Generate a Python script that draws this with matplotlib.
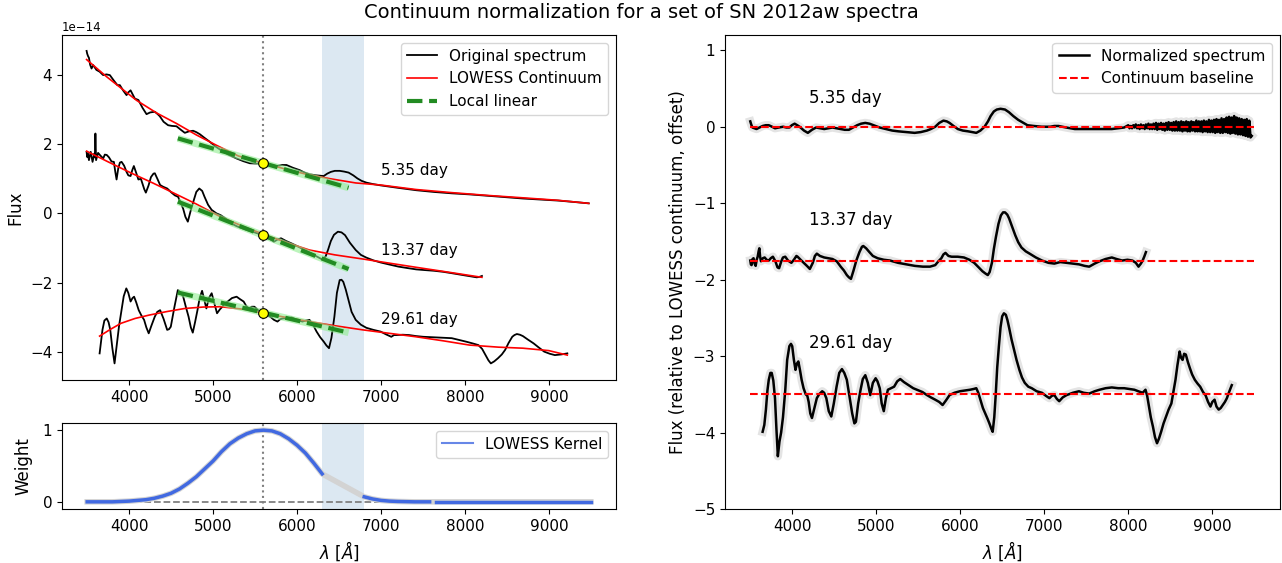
import numpy as np
import matplotlib
matplotlib.use('Agg')
import matplotlib.pyplot as plt
from matplotlib.lines import Line2D

# --- data (left panel fluxes in units of 1e-14) ---
days = ["5.35 day", "13.37 day", "29.61 day"]

w1 = [3493, 3500, 3510, 3521, 3535, 3552, 3571, 3610, 3648, 3690, 3730, 3770, 3815, 3860, 3889,
      3930, 3969, 3990, 4017, 4040, 4068, 4110, 4160, 4207, 4250, 4306, 4340, 4365, 4410, 4464,
      4510, 4564, 4615, 4663, 4710, 4762, 4800, 4842, 4900, 4961, 5020, 5080, 5180, 5278, 5360,
      5437, 5520, 5604, 5680, 5755, 5820, 5874, 5950, 6032, 6090, 6150, 6230, 6318, 6360, 6403,
      6450, 6508, 6560, 6614, 6670, 6720, 6770, 6826, 6900, 6996, 7200, 7419, 7630, 7843, 8050,
      8267, 8480, 8691, 8900, 9114, 9300, 9475]
f1 = [4.70, 4.62, 4.55, 4.50, 4.30, 4.19, 4.29, 4.15, 4.10, 4.00, 4.02, 4.00, 3.85, 3.71, 3.71,
      3.55, 3.42, 3.50, 3.56, 3.45, 3.32, 3.28, 3.05, 2.87, 2.92, 2.94, 2.87, 2.81, 2.65, 2.55,
      2.53, 2.52, 2.42, 2.33, 2.37, 2.39, 2.35, 2.29, 2.18, 2.07, 1.95, 1.85, 1.70, 1.59, 1.51,
      1.45, 1.44, 1.45, 1.40, 1.37, 1.40, 1.40, 1.32, 1.25, 1.18, 1.13, 1.10, 1.08, 1.15, 1.20,
      1.23, 1.23, 1.21, 1.18, 1.10, 1.01, 0.94, 0.89, 0.85, 0.81, 0.74, 0.67, 0.62, 0.58, 0.55,
      0.51, 0.47, 0.43, 0.40, 0.37, 0.33, 0.29]
c1_w = [3493, 3733, 4088, 4330, 4564, 4800, 5040, 5301, 5604, 5850, 6131, 6400, 6700, 6996,
        7419, 7843, 8267, 8691, 9100, 9475]
c1_f = [4.45, 3.95, 3.27, 2.90, 2.60, 2.27, 1.97, 1.66, 1.45, 1.29, 1.12, 1.00, 0.88, 0.82,
        0.69, 0.60, 0.52, 0.45, 0.38, 0.29]

w2 = [3493, 3500, 3508, 3521, 3542, 3564, 3585, 3592, 3598, 3606, 3630, 3651, 3670, 3691, 3710,
      3733, 3760, 3790, 3818, 3835, 3850, 3870, 3890, 3910, 3940, 3969, 3990, 4017, 4037, 4056,
      4080, 4110, 4140, 4160, 4180, 4199, 4230, 4260, 4290, 4306, 4340, 4369, 4405, 4453, 4505,
      4545, 4583, 4615, 4643, 4670, 4699, 4730, 4771, 4800, 4835, 4870, 4898, 4940, 4983, 5040,
      5089, 5150, 5216, 5280, 5343, 5400, 5470, 5530, 5597, 5660, 5725, 5765, 5809, 5870, 5936,
      6020, 6106, 6200, 6260, 6297, 6340, 6370, 6403, 6440, 6487, 6530, 6572, 6630, 6699, 6760,
      6826, 6910, 6996, 7100, 7208, 7310, 7419, 7520, 7631, 7740, 7843, 7990, 8140, 8170, 8203]
f2 = [1.78, 1.63, 1.73, 1.54, 1.78, 1.49, 1.73, 1.62, 2.31, 1.54, 1.75, 1.69, 1.64, 1.59, 1.70,
      1.69, 1.62, 1.50, 1.49, 1.20, 0.98, 1.30, 1.47, 1.49, 1.38, 1.20, 1.10, 1.08, 1.25, 1.37,
      1.20, 0.98, 1.00, 0.85, 0.70, 0.60, 0.80, 1.05, 1.15, 1.16, 0.98, 0.82, 0.77, 0.72, 0.60,
      0.52, 0.48, 0.30, 0.14, -0.10, -0.24, 0.05, 0.39, 0.62, 0.72, 0.65, 0.48, 0.25, 0.10, 0.00,
      -0.05, -0.15, -0.29, -0.37, -0.43, -0.48, -0.53, -0.58, -0.63, -0.72, -0.82, -0.76, -0.72,
      -0.80, -0.87, -0.97, -1.08, -1.20, -1.28, -1.33, -1.25, -1.05, -0.80, -0.62, -0.53, -0.55,
      -0.63, -0.85, -1.06, -1.20, -1.28, -1.36, -1.42, -1.48, -1.54, -1.58, -1.62, -1.64, -1.66,
      -1.69, -1.73, -1.79, -1.85, -1.84, -1.81]
c2_w = [3493, 3750, 4030, 4290, 4538, 4800, 5089, 5350, 5597, 5870, 6148, 6450, 6784, 7100,
        7419, 7800, 8203]
c2_f = [1.80, 1.49, 1.16, 0.87, 0.58, 0.27, -0.10, -0.37, -0.60, -0.84, -1.06, -1.20, -1.32,
        -1.44, -1.56, -1.70, -1.85]

w3 = [3648, 3665, 3682, 3705, 3733, 3755, 3775, 3800, 3826, 3843, 3860, 3880, 3903, 3935, 3966,
      3990, 4017, 4040, 4059, 4085, 4114, 4145, 4178, 4205, 4233, 4265, 4305, 4335, 4369, 4410,
      4453, 4475, 4496, 4540, 4580, 4610, 4644, 4675, 4708, 4735, 4758, 4785, 4814, 4840, 4869,
      4895, 4920, 4950, 4983, 5015, 5047, 5080, 5110, 5140, 5174, 5225, 5280, 5320, 5364, 5395,
      5428, 5460, 5492, 5545, 5597, 5640, 5682, 5725, 5767, 5800, 5831, 5880, 5936, 6000, 6064,
      6105, 6148, 6190, 6233, 6275, 6318, 6350, 6381, 6410, 6445, 6475, 6508, 6530, 6551, 6580,
      6614, 6650, 6699, 6760, 6826, 6910, 6996, 7060, 7123, 7155, 7186, 7260, 7335, 7420, 7504,
      7590, 7674, 7760, 7843, 7930, 8013, 8090, 8161, 8205, 8246, 8280, 8309, 8350, 8394, 8440,
      8479, 8520, 8564, 8590, 8619, 8655, 8691, 8750, 8818, 8880, 8945, 9010, 9072, 9150, 9220]
f3 = [-4.05, -3.70, -3.37, -3.10, -3.04, -3.15, -3.37, -3.90, -4.34, -4.00, -3.66, -3.25, -2.89,
      -2.40, -2.17, -2.30, -2.55, -2.45, -2.41, -2.58, -2.80, -2.95, -3.08, -3.30, -3.47, -3.25,
      -2.99, -2.85, -2.80, -3.05, -3.37, -3.35, -3.28, -2.70, -2.22, -2.28, -2.41, -2.70, -2.99,
      -3.30, -3.45, -3.15, -2.80, -2.45, -2.24, -2.50, -2.75, -2.45, -2.31, -2.60, -2.89, -2.78,
      -2.70, -2.60, -2.55, -2.45, -2.41, -2.48, -2.55, -2.68, -2.75, -2.70, -2.70, -2.82, -2.89,
      -2.95, -2.99, -3.08, -3.13, -3.06, -3.04, -3.03, -3.01, -3.08, -3.13, -3.10, -3.08, -3.22,
      -3.42, -3.58, -3.71, -3.82, -3.90, -3.60, -2.99, -2.30, -1.93, -1.92, -1.98, -2.20, -2.51,
      -2.85, -3.08, -3.22, -3.31, -3.37, -3.42, -3.50, -3.57, -3.52, -3.52, -3.51, -3.52, -3.55,
      -3.57, -3.58, -3.59, -3.60, -3.61, -3.66, -3.71, -3.76, -3.81, -3.92, -4.10, -4.25, -4.34,
      -4.28, -4.19, -4.08, -3.95, -3.75, -3.57, -3.52, -3.49, -3.51, -3.55, -3.65, -3.76, -3.88,
      -4.00, -4.06, -4.10, -4.08, -4.05]
c3_w = [3648, 3780, 3903, 4070, 4242, 4450, 4665, 4880, 5089, 5386, 5597, 5870, 6148, 6450,
        6784, 7100, 7419, 7750, 8055, 8400, 8691, 9000, 9220]
c3_f = [-3.55, -3.35, -3.18, -3.04, -2.94, -2.84, -2.75, -2.71, -2.70, -2.78, -2.89, -3.01,
        -3.13, -3.25, -3.37, -3.47, -3.57, -3.69, -3.81, -3.87, -3.90, -3.97, -4.10]

# local linear fits (end points) and anchor flux at the kernel centre
lin_w = [4580, 6614]
lin_f = [[2.17, 0.74], [0.34, -1.61], [-2.29, -3.45]]
center = 5600
anchor_f = [1.45, -0.63, -2.87]
mask_lo, mask_hi = 6300, 6800

# LOWESS kernel weights
k_w = [3500, 3800, 4000, 4100, 4200, 4300, 4400, 4500, 4600, 4700, 4800, 4900, 5000, 5100,
       5200, 5300, 5400, 5500, 5600, 5700, 5800, 5900, 6000, 6100, 6200, 6300, 6800, 6900,
       7000, 7100, 7200, 7400, 7580, 7650, 8000, 9500]
k_v = [0.0, 0.0, 0.01, 0.02, 0.03, 0.05, 0.08, 0.12, 0.18, 0.26, 0.35, 0.46, 0.57, 0.70,
       0.81, 0.89, 0.95, 0.99, 1.0, 0.99, 0.95, 0.88, 0.79, 0.68, 0.54, 0.39, 0.07, 0.04,
       0.02, 0.01, 0.005, 0.0, 0.0, 0.0, 0.0, 0.0]

# --- right panel: normalized spectra ---
n1_w = [3501, 3512, 3526, 3550, 3575, 3610, 3648, 3685, 3721, 3760, 3795, 3840, 3892, 3930,
        3966, 3995, 4029, 4060, 4088, 4140, 4186, 4235, 4284, 4330, 4381, 4430, 4479, 4530,
        4577, 4625, 4675, 4725, 4773, 4820, 4870, 4920, 4968, 5040, 5115, 5190, 5262, 5360,
        5457, 5530, 5604, 5650, 5702, 5750, 5800, 5840, 5873, 5920, 5971, 6030, 6093, 6140,
        6191, 6240, 6289, 6330, 6362, 6400, 6435, 6480, 6533, 6580, 6631, 6690, 6753, 6800,
        6875, 6970, 7071, 7120, 7169, 7260, 7364, 7460, 7560, 7680, 7804, 7880, 7951,
        8000, 8015, 8030, 8045, 8060, 8075, 8090, 8105, 8120, 8135,
        8150, 8165, 8180, 8195, 8210, 8225, 8240, 8255, 8270, 8285,
        8300, 8315, 8330, 8345, 8360, 8375, 8390, 8405, 8420, 8435,
        8450, 8465, 8480, 8495, 8510, 8525, 8540, 8555, 8570, 8585,
        8600, 8615, 8630, 8645, 8660, 8675, 8690, 8705, 8720, 8735,
        8750, 8765, 8780, 8795, 8810, 8825, 8840, 8855, 8870, 8885,
        8900, 8915, 8930, 8945, 8960, 8975, 8990, 9005, 9020, 9035,
        9050, 9065, 9080, 9095, 9110, 9125, 9140, 9155, 9170, 9185,
        9200, 9215, 9230, 9245, 9260, 9275, 9290, 9305, 9320, 9335,
        9350, 9365, 9380, 9395, 9410, 9425, 9440, 9455, 9470]
n1_v = [0.07, 0.03, -0.01, -0.02, -0.03, -0.01, 0.01, 0.02, 0.02, 0.0, -0.02, -0.01, 0.0, -0.01,
        -0.01, 0.02, 0.04, 0.02, 0.0, -0.05, -0.08, -0.04, -0.01, -0.02, -0.03, -0.02, -0.01, -0.02,
        -0.03, -0.04, -0.04, -0.01, 0.02, 0.04, 0.05, 0.04, 0.02, -0.01, -0.03, -0.05, -0.06, -0.07,
        -0.08, -0.07, -0.05, -0.03, 0.0, 0.05, 0.08, 0.07, 0.05, 0.01, -0.03, -0.05, -0.06, -0.07,
        -0.08, -0.05, 0.0, 0.07, 0.14, 0.20, 0.225, 0.235, 0.225, 0.19, 0.14, 0.09, 0.05, 0.02,
        0.01, 0.0, 0.0, 0.01, 0.01, -0.01, -0.03, -0.03, -0.03, -0.03, -0.03, -0.02, -0.01,
        0.02, -0.02, 0.01, -0.02, 0.02, -0.01, 0.03, -0.02, 0.02, -0.03,
        0.03, -0.02, 0.02, -0.03, 0.03, -0.02, 0.04, -0.03, 0.03, -0.03,
        0.04, -0.03, 0.05, -0.04, 0.04, -0.03, 0.05, -0.04, 0.04, -0.05,
        0.05, -0.04, 0.06, -0.04, 0.05, -0.05, 0.06, -0.05, 0.07, -0.05,
        0.06, -0.05, 0.07, -0.06, 0.06, -0.05, 0.07, -0.06, 0.06, -0.06,
        0.07, -0.05, 0.06, -0.06, 0.08, -0.06, 0.07, -0.06, 0.07, -0.07,
        0.08, -0.06, 0.07, -0.07, 0.09, -0.07, 0.08, -0.07, 0.09, -0.08,
        0.10, -0.07, 0.09, -0.08, 0.11, -0.08, 0.10, -0.07, 0.12, -0.08,
        0.13, -0.09, 0.12, -0.08, 0.14, -0.09, 0.12, -0.10, 0.11, -0.10,
        0.10, -0.11, 0.09, -0.12, 0.10, -0.13, 0.08, -0.14, -0.12]

n2_w = [3501, 3508, 3516, 3528, 3540, 3552, 3565, 3577, 3589, 3600, 3609, 3618, 3628, 3650,
        3672, 3695, 3721, 3745, 3770, 3800, 3825, 3844, 3870, 3890, 3917, 3950, 3990, 4020,
        4050, 4064, 4100, 4137, 4175, 4210, 4245, 4270, 4293, 4330, 4381, 4430, 4479, 4530,
        4577, 4615, 4650, 4675, 4699, 4730, 4763, 4800, 4830, 4846, 4880, 4919, 4960, 5017,
        5090, 5164, 5260, 5359, 5460, 5555, 5640, 5702, 5740, 5775, 5800, 5824, 5860, 5897,
        5970, 6044, 6110, 6166, 6220, 6264, 6300, 6328, 6350, 6377, 6400, 6425, 6455, 6484,
        6510, 6533, 6560, 6582, 6615, 6655, 6690, 6729, 6780, 6826, 6900, 6973, 7050, 7120,
        7190, 7266, 7340, 7413, 7480, 7535, 7600, 7658, 7730, 7804, 7860, 7927, 7990, 8049,
        8090, 8122, 8150, 8171, 8190, 8210]
n2_v = [-1.75, -1.80, -1.81, -1.73, -1.72, -1.79, -1.82, -1.74, -1.70, -1.63, -1.59, -1.70,
        -1.76, -1.72, -1.71, -1.74, -1.75, -1.72, -1.70, -1.76, -1.84, -1.85, -1.76, -1.71,
        -1.70, -1.75, -1.78, -1.74, -1.69, -1.70, -1.74, -1.78, -1.82, -1.86, -1.78, -1.69,
        -1.66, -1.69, -1.71, -1.72, -1.73, -1.76, -1.83, -1.88, -1.94, -1.97, -1.99, -1.88,
        -1.75, -1.64, -1.57, -1.56, -1.59, -1.64, -1.69, -1.72, -1.74, -1.75, -1.78, -1.80,
        -1.82, -1.83, -1.83, -1.81, -1.76, -1.72, -1.67, -1.65, -1.69, -1.70, -1.70, -1.71,
        -1.74, -1.78, -1.84, -1.89, -1.92, -1.94, -1.90, -1.78, -1.60, -1.44, -1.27, -1.16,
        -1.12, -1.12, -1.15, -1.20, -1.30, -1.42, -1.51, -1.58, -1.63, -1.66, -1.71, -1.75,
        -1.78, -1.79, -1.77, -1.78, -1.79, -1.80, -1.82, -1.83, -1.79, -1.76, -1.73, -1.71,
        -1.73, -1.75, -1.74, -1.75, -1.78, -1.83, -1.79, -1.75, -1.70, -1.64]

n3_w = [3648, 3668, 3687, 3705, 3721, 3740, 3756, 3775, 3795, 3812, 3829, 3848, 3868, 3890,
        3917, 3940, 3966, 3985, 4000, 4020, 4039, 4055, 4073, 4092, 4112, 4135, 4161, 4180,
        4196, 4215, 4235, 4260, 4293, 4320, 4357, 4380, 4406, 4435, 4465, 4495, 4528, 4560,
        4592, 4620, 4650, 4685, 4714, 4740, 4758, 4785, 4812, 4840, 4870, 4900, 4929, 4960,
        4993, 5015, 5042, 5065, 5090, 5115, 5139, 5175, 5213, 5250, 5286, 5330, 5384, 5440,
        5506, 5550, 5604, 5650, 5702, 5750, 5790, 5830, 5873, 5930, 5995, 6060, 6117, 6160,
        6191, 6215, 6240, 6270, 6298, 6325, 6347, 6370, 6386, 6405, 6421, 6440, 6460, 6480,
        6499, 6520, 6543, 6562, 6582, 6610, 6641, 6670, 6704, 6735, 6768, 6810, 6851, 6910,
        6973, 7020, 7061, 7090, 7120, 7150, 7178, 7220, 7266, 7340, 7413, 7470, 7535, 7600,
        7658, 7730, 7804, 7880, 7951, 8010, 8073, 8120, 8171, 8205, 8225, 8244, 8268, 8293,
        8318, 8342, 8365, 8391, 8420, 8450, 8480, 8513, 8540, 8562, 8585, 8611, 8628, 8646,
        8665, 8685, 8710, 8734, 8760, 8792, 8825, 8856, 8890, 8919, 8950, 8978, 9000, 9027,
        9050, 9076, 9100, 9125, 9150, 9174, 9200, 9232]
n3_v = [-3.99, -3.90, -3.70, -3.45, -3.31, -3.22, -3.22, -3.32, -3.55, -3.95, -4.31, -4.12,
        -4.00, -3.80, -3.45, -3.05, -2.87, -2.84, -2.87, -3.05, -3.18, -3.10, -3.07, -3.18,
        -3.31, -3.42, -3.50, -3.52, -3.60, -3.75, -3.81, -3.70, -3.55, -3.50, -3.46, -3.48,
        -3.55, -3.72, -3.79, -3.62, -3.40, -3.22, -3.17, -3.22, -3.31, -3.55, -3.75, -3.88,
        -3.86, -3.62, -3.45, -3.30, -3.25, -3.35, -3.51, -3.35, -3.29, -3.33, -3.42, -3.62,
        -3.72, -3.55, -3.44, -3.42, -3.40, -3.33, -3.30, -3.34, -3.38, -3.42, -3.45, -3.47,
        -3.51, -3.54, -3.57, -3.60, -3.64, -3.58, -3.51, -3.48, -3.46, -3.45, -3.44, -3.43,
        -3.42, -3.48, -3.57, -3.68, -3.75, -3.82, -3.88, -3.95, -3.99, -3.80, -3.53, -3.15,
        -2.87, -2.62, -2.48, -2.44, -2.46, -2.53, -2.63, -2.78, -2.92, -3.05, -3.18, -3.28,
        -3.35, -3.40, -3.42, -3.46, -3.48, -3.52, -3.55, -3.52, -3.51, -3.56, -3.59, -3.54,
        -3.51, -3.48, -3.46, -3.48, -3.49, -3.46, -3.44, -3.42, -3.41, -3.42, -3.42, -3.43,
        -3.44, -3.46, -3.48, -3.44, -3.52, -3.64, -3.80, -3.92, -4.06, -4.14, -4.08, -3.99,
        -3.88, -3.79, -3.70, -3.62, -3.45, -3.31, -3.12, -2.94, -3.02, -3.05, -2.97, -2.98,
        -3.08, -3.16, -3.24, -3.31, -3.36, -3.40, -3.47, -3.51, -3.60, -3.66, -3.60, -3.57,
        -3.66, -3.70, -3.68, -3.64, -3.60, -3.55, -3.47, -3.38]

offsets = [0.0, -1.75, -3.5]
label_left_y = [1.25, -1.06, -3.07]
label_right_y = [0.37, -1.22, -2.83]

scale = 1e-14

fig = plt.figure(figsize=(12.82, 5.63), dpi=100)
ax1 = fig.add_axes([62 / 1282, 1 - 380 / 563, 554 / 1282, 345 / 563])
ax2 = fig.add_axes([62 / 1282, 1 - 509 / 563, 554 / 1282, 86 / 563])
ax3 = fig.add_axes([725 / 1282, 1 - 509 / 563, 554.5 / 1282, 474 / 563])

fig.text(0.5, 1 - 13 / 563, "Continuum normalization for a set of SN 2012aw spectra",
         ha='center', va='center', fontsize=14)

# top-left: original spectra with continuum
specs = [(w1, f1, c1_w, c1_f), (w2, f2, c2_w, c2_f), (w3, f3, c3_w, c3_f)]
for i, (w, f, cw, cf) in enumerate(specs):
    ax1.plot(w, np.array(f) * scale, color='black', lw=1.3,
             label="Original spectrum" if i == 0 else None)
    ax1.plot(cw, np.array(cf) * scale, color='red', lw=1.2,
             label="LOWESS Continuum" if i == 0 else None)
    lf = np.array(lin_f[i]) * scale
    ax1.plot(lin_w, lf, color='lightgreen', lw=5, alpha=0.6, solid_capstyle='butt')
    ax1.plot(lin_w, lf, color='forestgreen', lw=3, ls='--',
             label="Local linear" if i == 0 else None)
    ax1.plot([center], [anchor_f[i] * scale], 'o', ms=7, mfc='yellow', mec='black', mew=0.8,
             zorder=5)
    ax1.text(7000, label_left_y[i] * scale, days[i], fontsize=11, va='center', ha='left')

ax1.axvline(center, color='gray', ls=':', lw=1.5)
ax1.axvspan(mask_lo, mask_hi, color='#dce8f2', zorder=0, lw=0)
ax1.set_xlim(3200, 9800)
ax1.set_ylim(-4.82e-14, 5.16e-14)
ax1.set_ylabel("Flux", fontsize=12)
ax1.tick_params(labelsize=11)
ax1.yaxis.get_offset_text().set_fontsize(8.5)
ax1.legend(loc='upper right', fontsize=11)

# bottom-left: kernel weights
kw = np.array(k_w)
kv = np.array(k_v)
ax2.axvspan(mask_lo, mask_hi, color='#dce8f2', zorder=0, lw=0)
ax2.plot([3500, 9500], [0, 0], ls='--', color='gray', lw=1.3)
ax2.axvline(center, color='gray', ls=':', lw=1.5)
ax2.plot(kw, kv, color='lightgray', lw=4)
pieces = [kw <= mask_lo, (kw >= mask_hi) & (kw <= 7580), kw >= 7650]
for sel in pieces:
    ax2.plot(kw[sel], kv[sel], color='royalblue', lw=2.5)
ax2.set_xlim(3200, 9800)
ax2.set_ylim(-0.1, 1.1)
ax2.set_yticks([0, 1])
ax2.set_ylabel("Weight", fontsize=12, labelpad=7)
ax2.set_xlabel(r"$\lambda$ [$\AA$]", fontsize=12)
ax2.tick_params(labelsize=11)
ax2.legend(handles=[Line2D([], [], color='royalblue', alpha=0.8, lw=1.5)],
           labels=["LOWESS Kernel"], loc='upper right', fontsize=11)

# right: normalized spectra
norm = [(n1_w, n1_v), (n2_w, n2_v), (n3_w, n3_v)]
for i, (w, v) in enumerate(norm):
    ax3.plot(w, v, color='#e4e4e4', lw=6, solid_joinstyle='round')
    ax3.plot(w, v, color='black', lw=1.8, label="Normalized spectrum" if i == 0 else None)
    ax3.plot([3500, 9500], [offsets[i], offsets[i]], color='red', ls='--', lw=1.5,
             label="Continuum baseline" if i == 0 else None)
    ax3.text(4200, label_right_y[i], days[i], fontsize=12, va='center', ha='left')
ax3.set_xlim(3200, 9800)
ax3.set_ylim(-5, 1.2)
ax3.set_ylabel("Flux (relative to LOWESS continuum, offset)", fontsize=12)
ax3.set_xlabel(r"$\lambda$ [$\AA$]", fontsize=12)
ax3.tick_params(labelsize=11)
ax3.legend(loc='upper right', fontsize=11)

fig.savefig("out.png", dpi=100)
